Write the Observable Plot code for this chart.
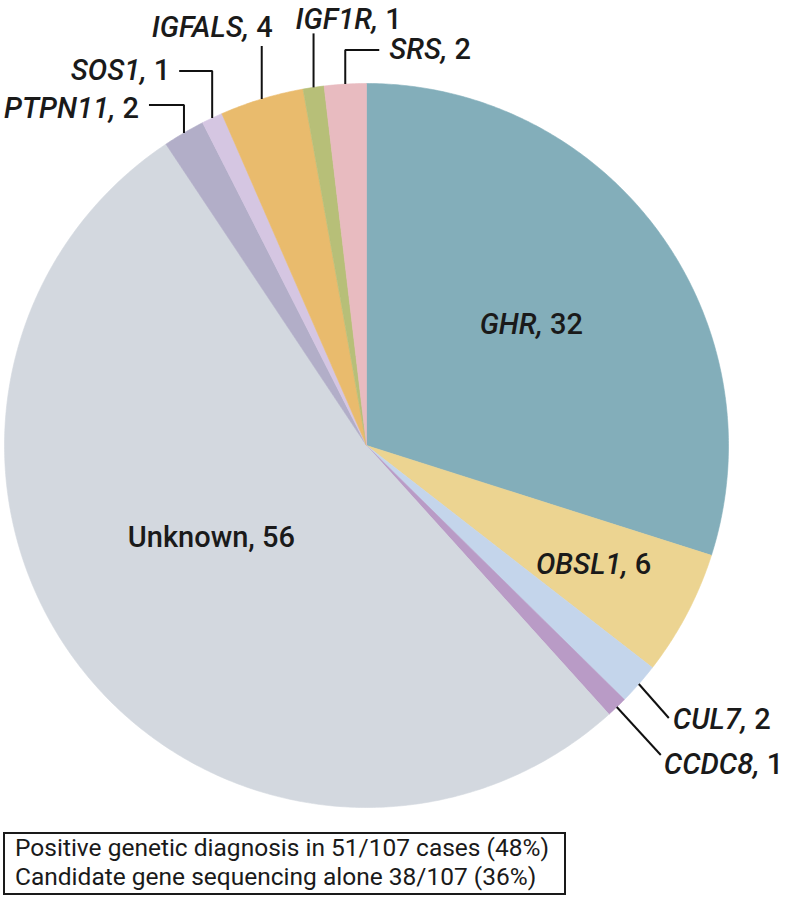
<!DOCTYPE html>
<html>
<head>
<meta charset="utf-8">
<script src="https://cdn.jsdelivr.net/npm/d3@7"></script>
<script src="https://cdn.jsdelivr.net/npm/@observablehq/plot@0.6"></script>
<style>
  body { margin: 0; background: #fff; }
  #chart svg { display: block; }
  #box {
    margin-left: 3px;
    width: 549px;
    height: 59px;
    border: 2px solid #1a1a1a;
    padding: 0 0 0 10px;
    font-family: Roboto, "Liberation Sans", sans-serif;
    font-size: 24.5px;
    line-height: 28.7px;
    color: #1a1a1a;
    white-space: nowrap;
  }
</style>
</head>
<body>
<div id="chart"></div>
<div id="box">Positive genetic diagnosis in 51/107 cases (48%)<br>Candidate gene sequencing alone 38/107 (36%)</div>
<script>
// ---- data ----
const names  = ["GHR", "OBSL1", "CUL7", "CCDC8", "Unknown", "PTPN11", "SOS1", "IGFALS", "IGF1R", "SRS"];
const counts = [32, 6, 2, 1, 56, 2, 1, 4, 1, 2];
const isGene = [true, true, true, true, false, true, true, true, true, true];
const colors = ["#83aeba", "#ecd491", "#c4d5eb", "#b99bc6", "#d3d8df", "#b2aec8", "#d5c6e2", "#e9bb6d", "#b7bf78", "#e8bbc0"];

// ---- layout ----
const W = 785, H = 832;
const cx = 366, cy = 445, R = 362;
const FONT = "Roboto, 'Liberation Sans', sans-serif";
const FS = 29;
// internal labels: radius fraction, angle offset (deg)
const inside = {
  GHR: {r: 0.564, da: 0},
  OBSL1: {r: 0.709, da: 0},
  Unknown: {r: 0.498, da: 7.2}
};
// external labels: leader path (px offsets from slice edge), text offset from last point, anchor
const outside = {
  PTPN11: {path: [[0, 0], [0, -28], [-35, -28]], t: [-10, 4], anchor: "end"},
  SOS1:   {path: [[0, 0], [0, -47], [-33, -47]], t: [-9, 0], anchor: "end"},
  IGFALS: {path: [[0, 0], [0, -53]], t: [11, -18], anchor: "end"},
  IGF1R:  {path: [[0, 0], [0, -54]], t: [-18, -14], anchor: "start"},
  SRS:    {path: [[0, 0], [0, -34], [34, -34]], t: [10, 0], anchor: "start"},
  CUL7:   {path: [[0, 0], [30, 34]], t: [4, 2], anchor: "start"},
  CCDC8:  {path: [[0, 0], [44, 48]], t: [3, 10], anchor: "start"}
};

const rows = names.map((n, i) => ({name: n, count: counts[i], gene: isGene[i]}));
const arcs = d3.pie().sort(null).value(d => d.count)(rows);

// slice polygons in unit-circle coordinates (angle clockwise from top)
const slicePts = [];
for (const a of arcs) {
  const n = Math.max(2, Math.ceil((a.endAngle - a.startAngle) / (Math.PI / 360)));
  slicePts.push({name: a.data.name, x: 0, y: 0});
  for (let i = 0; i <= n; i++) {
    const t = a.startAngle + (a.endAngle - a.startAngle) * i / n;
    slicePts.push({name: a.data.name, x: Math.sin(t), y: Math.cos(t)});
  }
  slicePts.push({name: a.data.name, x: 0, y: 0});
}

const labelText = d => `${d.name}, ${d.count}`;
const leaderPts = [];
const labels = [];
for (const a of arcs) {
  const d = a.data;
  const mid = (a.startAngle + a.endAngle) / 2;
  if (inside[d.name]) {
    const L = inside[d.name];
    const t = mid + L.da * Math.PI / 180;
    labels.push({text: labelText(d), x: L.r * Math.sin(t), y: L.r * Math.cos(t), anchor: "middle"});
  } else if (outside[d.name]) {
    const L = outside[d.name];
    const sx = Math.sin(mid), sy = Math.cos(mid);
    let last;
    for (const [dx, dy] of L.path) {
      last = {name: d.name, x: sx + dx / R, y: sy - dy / R};
      leaderPts.push(last);
    }
    labels.push({text: labelText(d), x: last.x + L.t[0] / R, y: last.y - L.t[1] / R, anchor: L.anchor});
  }
}

const textMarks = ["start", "middle", "end"].map(anc =>
  Plot.text(labels.filter(l => l.anchor === anc), {
    x: "x", y: "y", text: "text", textAnchor: anc,
    fontSize: FS, fontFamily: FONT, fontWeight: 500, fill: "#1a1a1a"
  })
);

const chart = Plot.plot({
  width: W,
  height: H,
  margin: 0,
  style: {fontFamily: FONT, background: "#fff"},
  x: {domain: [-cx / R, (W - cx) / R], axis: null},
  y: {domain: [-(H - cy) / R, cy / R], axis: null},
  color: {domain: names, range: colors},
  marks: [
    Plot.line(slicePts, {x: "x", y: "y", z: "name", fill: "name", stroke: "name", strokeWidth: 0.6}),
    Plot.line(leaderPts, {x: "x", y: "y", z: "name", stroke: "#111", strokeWidth: 2, strokeLinejoin: "miter", strokeLinecap: "butt"}),
    ...textMarks
  ]
});

// italicise gene names (keep as real text)
const geneSet = new Set(names.filter((n, i) => isGene[i]));
chart.querySelectorAll("text").forEach(el => {
  const s = el.textContent;
  const m = s.match(/^(.+?),\s(\d+)$/);
  if (m && geneSet.has(m[1])) {
    el.textContent = "";
    const ns = "http://www.w3.org/2000/svg";
    const t1 = document.createElementNS(ns, "tspan");
    t1.setAttribute("font-style", "italic");
    t1.textContent = m[1] + ",";
    const t2 = document.createElementNS(ns, "tspan");
    t2.textContent = " " + m[2];
    el.appendChild(t1);
    el.appendChild(t2);
  }
});

document.getElementById("chart").appendChild(chart);
</script>
</body>
</html>
